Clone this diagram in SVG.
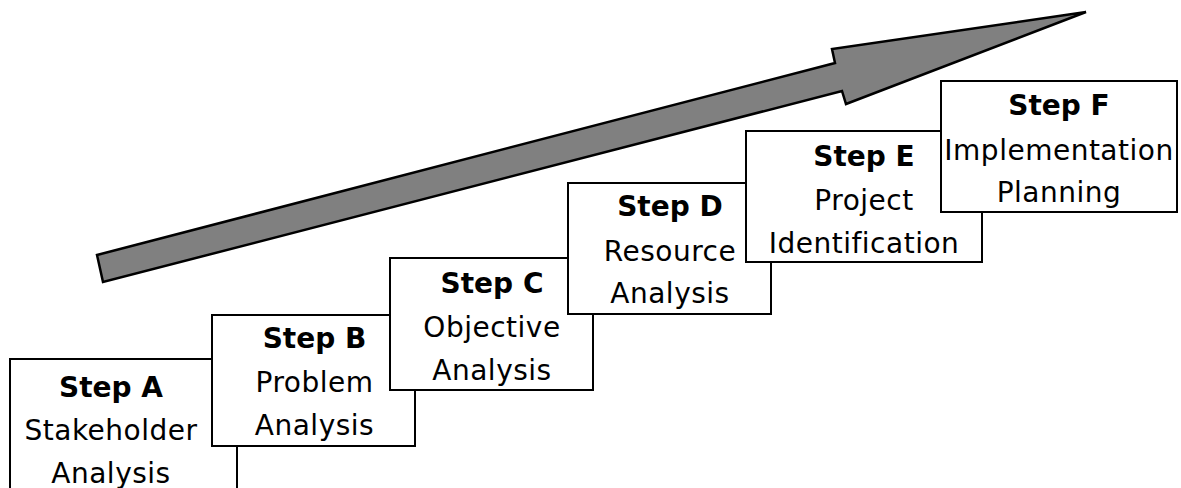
<svg xmlns="http://www.w3.org/2000/svg" width="1181" height="488" viewBox="0 0 1181 488">
<style>
.box{fill:#ffffff;stroke:#000000;stroke-width:2}
.t{font-family:"DejaVu Sans",sans-serif;font-size:28px;text-anchor:middle;fill:#000000;letter-spacing:0.5px}
.b{font-weight:bold;letter-spacing:0}
.arrow{fill:#808080;stroke:#000000;stroke-width:2.5;stroke-linejoin:miter}
</style>
<rect width="1181" height="488" fill="#ffffff"/>
<g id="connectors">
<polygon class="arrow" points="97,255 835,63 832,49 1086,12 846,104 842,91 103,282"/>
</g>
<g id="stepA">
<rect class="box" x="10" y="359" width="227" height="150"/>
<text class="t b" x="111" y="397">Step A</text>
<text class="t" x="111" y="440">Stakeholder</text>
<text class="t" x="111" y="483">Analysis</text>
</g>
<g id="stepB">
<rect class="box" x="212" y="315" width="203" height="131"/>
<text class="t b" x="314.5" y="348">Step B</text>
<text class="t" x="314.5" y="392">Problem</text>
<text class="t" x="314.5" y="435">Analysis</text>
</g>
<g id="stepC">
<rect class="box" x="390" y="258" width="203" height="132"/>
<text class="t b" x="492" y="293">Step C</text>
<text class="t" x="492" y="337">Objective</text>
<text class="t" x="492" y="380">Analysis</text>
</g>
<g id="stepD">
<rect class="box" x="568" y="183" width="203" height="131"/>
<text class="t b" x="670" y="216">Step D</text>
<text class="t" x="670" y="261">Resource</text>
<text class="t" x="670" y="303">Analysis</text>
</g>
<g id="stepE">
<rect class="box" x="746" y="131" width="236" height="131"/>
<text class="t b" x="864" y="166">Step E</text>
<text class="t" x="864" y="209.5">Project</text>
<text class="t" x="864" y="253">Identification</text>
</g>
<g id="stepF">
<rect class="box" x="941" y="81" width="236" height="131"/>
<text class="t b" x="1059" y="115">Step F</text>
<text class="t" x="1059" y="160">Implementation</text>
<text class="t" x="1059" y="202">Planning</text>
</g>
</svg>
